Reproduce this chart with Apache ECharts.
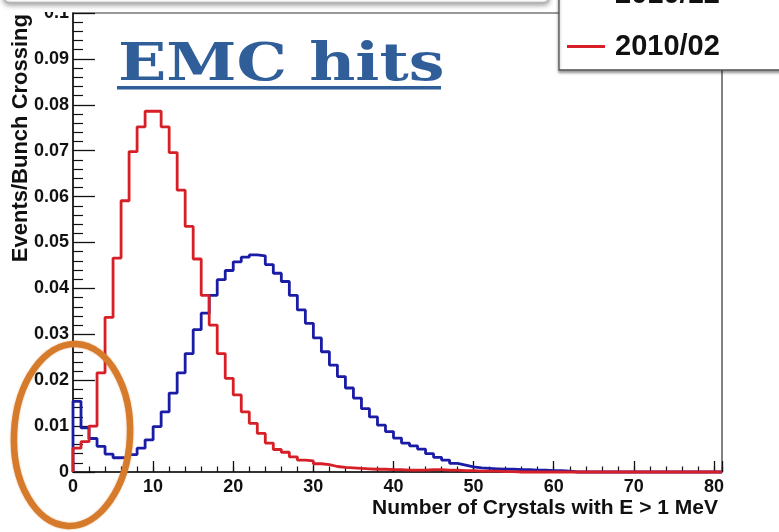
<!DOCTYPE html>
<html>
<head>
<meta charset="utf-8">
<title>EMC hits</title>
<script src="https://cdn.jsdelivr.net/npm/echarts@6/dist/echarts.min.js"></script>
<style>
  html, body { margin: 0; padding: 0; background: #ffffff; }
  #chart { width: 779px; height: 532px; }
</style>
</head>
<body>
<div id="chart"></div>
<script>
// Histogram bins: unit-width bins starting at 0 (Number of Crystals with E > 1 MeV)
const binStart = 0;
const binWidth = 1;

// Events per bunch crossing, one value per bin (bins 0..80)
const run201012 = [
  0.0154, 0.0096, 0.0073, 0.0056, 0.0039, 0.0031, 0.0032, 0.0038, 0.0052, 0.0070,
  0.0099, 0.0131, 0.0172, 0.0216, 0.0258, 0.0310, 0.0346, 0.0385, 0.0419, 0.0439,
  0.0458, 0.0468, 0.0473, 0.0471, 0.0452, 0.0433, 0.0415, 0.0385, 0.0353, 0.0324,
  0.0292, 0.0262, 0.0233, 0.0208, 0.0183, 0.0161, 0.0138, 0.0120, 0.0102, 0.0088,
  0.0074, 0.0063, 0.0057, 0.0050, 0.0040, 0.0032, 0.0026, 0.0019, 0.0015, 0.0011,
  0.0009, 0.0008, 0.0007, 0.0006, 0.0006, 0.0005, 0.0005, 0.0004, 0.0004, 0.0003,
  0.0003, 0.0002, 0, 0, 0, 0, 0, 0, 0, 0,
  0, 0, 0, 0, 0, 0, 0, 0, 0, 0,
  0
];

const run201002 = [
  0.0052, 0.0066, 0.0100, 0.0216, 0.0337, 0.0466, 0.0591, 0.0698, 0.0752, 0.0786,
  0.0786, 0.0752, 0.0696, 0.0614, 0.0535, 0.0464, 0.0385, 0.0320, 0.0258, 0.0204,
  0.0168, 0.0131, 0.0106, 0.0084, 0.0063, 0.0049, 0.0043, 0.0033, 0.0026, 0.0024,
  0.0018, 0.0016, 0.0012, 0.0010, 0.0009, 0.0008, 0.0007, 0.0006, 0.0006, 0.0005,
  0.0005, 0.0004, 0.0004, 0.0004, 0.0005, 0.0005, 0.0004, 0.0004, 0.0003, 0.0003,
  0.0002, 0.0002, 0.0002, 0.0001, 0.0001, 0, 0, 0, 0, 0,
  0, 0, 0, 0, 0, 0, 0, 0, 0, 0,
  0, 0, 0, 0, 0, 0, 0, 0, 0, 0,
  0
];

const seriesNames = ['2010/12', '2010/02'];
const xTicks = [0, 10, 20, 30, 40, 50, 60, 70, 80];
const yTicks = [0, 0.01, 0.02, 0.03, 0.04, 0.05, 0.06, 0.07, 0.08, 0.09, 0.1];
const titleText = 'EMC hits';
const xTitle = 'Number of Crystals with E > 1 MeV';
const yTitle = 'Events/Bunch Crossing';

// Turn bin contents into outline points for a step line ("HIST" style):
// start on the baseline at the low edge, one point per bin low edge,
// and close with the upper edge of the last bin.
function histOutline(values) {
  const pts = [[binStart, 0]];
  values.forEach((v, i) => pts.push([binStart + i * binWidth, v]));
  pts.push([binStart + values.length * binWidth, values[values.length - 1]]);
  return pts;
}

const xMax = binStart + run201002.length * binWidth;
const yMax = yTicks[yTicks.length - 1];
const sans = '"Liberation Sans", Arial, sans-serif';
const headingColor = '#2f5e99';

const chart = echarts.init(document.getElementById('chart'), null, { renderer: 'canvas' });

chart.setOption({
  animation: false,
  backgroundColor: '#ffffff',
  legend: {
    data: seriesNames,
    orient: 'vertical',
    left: 567,
    top: -20,
    padding: 0,
    itemGap: 23,
    itemWidth: 38,
    itemHeight: 3,
    icon: 'rect',
    z: 20,
    textStyle: {
      fontFamily: sans,
      fontWeight: 'bold',
      fontSize: 29,
      color: '#111',
      padding: [0, 0, 0, 5]
    }
  },
  grid: {
    left: 73,
    right: 57,
    top: 13,
    bottom: 60,
    containLabel: false,
    outerBoundsMode: 'none',
    show: true,
    borderColor: '#333',
    borderWidth: 1.2,
    backgroundColor: 'transparent'
  },
  xAxis: [
    {
      type: 'value',
      min: binStart,
      max: xMax,
      interval: xTicks[1] - xTicks[0],
      axisLine: { show: true, lineStyle: { color: '#111', width: 1.5 } },
      axisTick: { show: true, inside: true, length: 11, lineStyle: { color: '#111', width: 1.3 } },
      axisLabel: {
        show: true,
        margin: 6,
        fontFamily: sans,
        fontWeight: 'bold',
        fontSize: 18,
        color: '#111',
        formatter: v => (xTicks.indexOf(Math.round(v)) >= 0 && Math.abs(v - Math.round(v)) < 1e-9) ? String(Math.round(v)) : ''
      },
      splitLine: { show: false }
    },
    {
      // secondary ticks every 2 crystals
      type: 'value',
      position: 'bottom',
      min: binStart,
      max: xMax,
      interval: 2,
      axisLine: { show: false },
      axisTick: { show: true, inside: true, length: 5.5, lineStyle: { color: '#111', width: 1.2 } },
      axisLabel: { show: false },
      splitLine: { show: false }
    }
  ],
  yAxis: {
    type: 'value',
    min: 0,
    max: yMax,
    interval: yTicks[1] - yTicks[0],
    axisLine: { show: true, lineStyle: { color: '#111', width: 1.5 } },
    axisTick: { show: true, inside: true, length: 22, lineStyle: { color: '#111', width: 1.3 } },
    minorTick: { show: true, splitNumber: 5, length: 10, lineStyle: { color: '#111', width: 1.2 } },
    axisLabel: {
      show: true,
      margin: 4,
      fontFamily: sans,
      fontWeight: 'bold',
      fontSize: 18,
      color: '#111',
      formatter: v => {
        const r = parseFloat(v.toFixed(2));
        return r === 0 ? '0' : String(r);
      }
    },
    splitLine: { show: false }
  },
  series: [
    {
      name: seriesNames[0],
      type: 'line',
      step: 'end',
      data: histOutline(run201012),
      showSymbol: false,
      symbol: 'none',
      clip: false,
      color: '#1b1ca6',
      lineStyle: { color: '#1b1ca6', width: 2.8 },
      z: 3
    },
    {
      name: seriesNames[1],
      type: 'line',
      step: 'end',
      data: histOutline(run201002),
      showSymbol: false,
      symbol: 'none',
      clip: false,
      color: '#d61f26',
      lineStyle: { color: '#d61f26', width: 2.8 },
      z: 4
    }
  ],
  graphic: [
    // heading, slightly widened slab-serif lettering
    {
      type: 'text', z: 5, x: 118, y: 40, scaleX: 1.22,
      style: { text: titleText, font: 'bold 52px "DejaVu Serif", serif', fill: headingColor, align: 'left', verticalAlign: 'top' }
    },
    // underline of the heading
    { type: 'rect', z: 5, shape: { x: 117, y: 86, width: 324, height: 3.5 }, style: { fill: headingColor } },
    // axis titles
    {
      type: 'text', z: 5, x: 718, y: 508,
      style: { text: xTitle, font: 'bold 21px ' + sans, fill: '#111', align: 'right', verticalAlign: 'middle' }
    },
    {
      type: 'text', z: 5, x: 21, y: 14, rotation: Math.PI / 2,
      style: { text: yTitle, font: 'bold 22px ' + sans, fill: '#111', align: 'right', verticalAlign: 'middle' }
    },
    // strip above the frame
    { type: 'rect', z: 8, shape: { x: 0, y: 0, width: 558, height: 12 }, style: { fill: '#ffffff' } },
    // panel edge at the top
    {
      type: 'rect', z: 9, shape: { x: 4, y: -40, width: 545, height: 42.5, r: 5 },
      style: { fill: '#ffffff', stroke: '#b3b3b3', lineWidth: 1.5, shadowBlur: 5, shadowOffsetY: 2, shadowColor: 'rgba(0,0,0,0.35)' }
    },
    // legend box
    {
      type: 'rect', z: 10, shape: { x: 559, y: -60, width: 260, height: 130 },
      style: { fill: '#ffffff', stroke: '#555555', lineWidth: 1.3, shadowBlur: 3, shadowOffsetY: 2, shadowColor: 'rgba(0,0,0,0.4)' }
    },
    // highlighted low-multiplicity region
    {
      type: 'ellipse', z: 30, x: 72, y: 435, rotation: -0.05,
      shape: { cx: 0, cy: 0, rx: 58, ry: 91 },
      style: { fill: 'none', stroke: '#d67a2c', lineWidth: 6.5, shadowBlur: 2, shadowColor: 'rgba(214,122,44,0.6)' }
    }
  ]
});
</script>
</body>
</html>
